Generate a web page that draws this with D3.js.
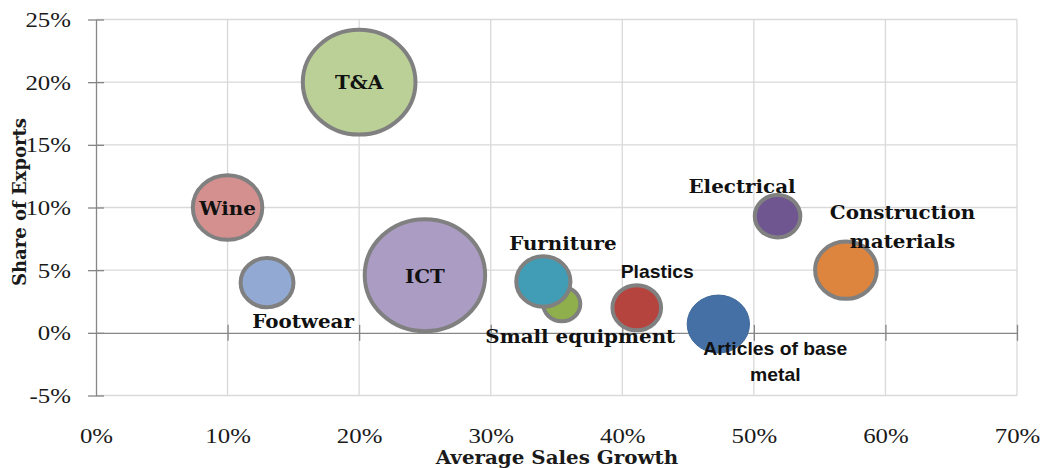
<!DOCTYPE html>
<html>
<head>
<meta charset="utf-8">
<script src="https://cdn.jsdelivr.net/npm/d3@7"></script>
<style>
  html, body { margin: 0; padding: 0; background: #ffffff; }
  svg { display: block; }
</style>
</head>
<body>
<svg id="chart" width="1043" height="468"></svg>
<script>
// ---------------- data ----------------
const categories = ["T&A", "Wine", "Footwear", "ICT", "Small equipment", "Furniture",
                    "Plastics", "Articles of base metal", "Electrical", "Construction materials"];
const salesGrowth = [20, 10, 13, 25, 35.4, 34, 41.1, 47.3, 51.8, 57.0];   // % (x)
const exportShare = [20, 10, 4.0, 4.6, 2.3, 4.1, 2.0, 0.7, 9.3, 5.0];     // % (y)
const bubbleSize  = [88, 35, 21, 100, 11, 22, 18, 25, 16, 28];            // relative size
const xTickValues = [0, 10, 20, 30, 40, 50, 60, 70];
const yTickValues = [-5, 0, 5, 10, 15, 20, 25];
const xTitle = "Average Sales Growth";
const yTitle = "Share of Exports";

// ---------------- styles / layout ----------------
const palette = ["#bad096", "#d4908f", "#92aad3", "#ab9cc4", "#8fae4c", "#409db5",
                 "#b5443f", "#4570a5", "#6f5690", "#dd853e"];
const labelLayout = {
  "T&A":                    { dx: 0,    dy: 7,    lines: ["T&A"], sans: false },
  "Wine":                   { dx: 0,    dy: 7,    lines: ["Wine"], sans: false },
  "Footwear":               { dx: 36,   dy: 45,   lines: ["Footwear"], sans: false },
  "ICT":                    { dx: 0,    dy: 8,    lines: ["ICT"], sans: false },
  "Small equipment":        { dx: 18.5, dy: 39,   lines: ["Small equipment"], sans: false },
  "Furniture":              { dx: 19.5, dy: -31,  lines: ["Furniture"], sans: false },
  "Plastics":               { dx: 20.5, dy: -29.5,lines: ["Plastics"], sans: true },
  "Articles of base metal": { dx: 57,   dy: 30.5, lines: ["Articles of base", "metal"], sans: true, lh: 26.5 },
  "Electrical":             { dx: -35.5,dy: -23,  lines: ["Electrical"], sans: false },
  "Construction materials": { dx: 56.5, dy: -51.5,lines: ["Construction", "materials"], sans: false, lh: 29 }
};
const stretch = 1.075;       // horizontal aspect of the original picture
const tickStretch = 1.13;
const gridColor = "#d9d9d9";
const axisColor = "#868686";
const serif = "'Liberation Serif', 'Times New Roman', serif";
const boldSerif = "'DejaVu Serif', serif";
const boldSans = "'Liberation Sans', Arial, sans-serif";

const data = categories.map((c, i) => ({
  name: c, x: salesGrowth[i], y: exportShare[i], s: bubbleSize[i], color: palette[i]
}));

// ---------------- scales ----------------
const svg = d3.select("#chart");
const x = d3.scaleLinear().domain([0, 70]).range([96, 1017]);
const y = d3.scaleLinear().domain([-5, 25]).range([395.5, 19.5]);
const r = d3.scaleSqrt().domain([0, 100]).range([0, 58]);

// ---------------- gridlines ----------------
const grid = svg.append("g");
grid.selectAll("line.h").data(yTickValues.filter(v => v !== 0)).join("line")
  .attr("x1", x(0)).attr("x2", x(70))
  .attr("y1", d => y(d)).attr("y2", d => y(d))
  .attr("stroke", gridColor).attr("stroke-width", 1.3);
grid.selectAll("line.v").data(xTickValues.filter(v => v !== 0)).join("line")
  .attr("x1", d => x(d)).attr("x2", d => x(d))
  .attr("y1", y(25)).attr("y2", y(-5))
  .attr("stroke", gridColor).attr("stroke-width", 1.3);

// ---------------- axes ----------------
const yAxis = svg.append("g").attr("transform", `translate(${x(0)},0)`)
  .call(d3.axisLeft(y).tickValues(yTickValues).tickSize(8).tickSizeOuter(0)
        .tickFormat(d => d + "%"));
yAxis.select(".domain").attr("stroke", axisColor).attr("stroke-width", 1.3);
yAxis.selectAll(".tick line").attr("x1", 8).attr("stroke", axisColor).attr("stroke-width", 1.3);
yAxis.selectAll(".tick text")
  .attr("x", 0)
  .attr("transform", `translate(-25,0) scale(${tickStretch},1)`)
  .attr("font-family", serif).attr("font-size", 22).attr("fill", "#1a1a1a");

const xAxisLine = svg.append("g").attr("transform", `translate(0,${y(0)})`)
  .call(d3.axisBottom(x).tickValues(xTickValues.filter(v => v !== 0)).tickSize(8)
        .tickSizeOuter(0).tickFormat(""));
xAxisLine.select(".domain").attr("stroke", axisColor).attr("stroke-width", 1.3);
xAxisLine.selectAll(".tick line").attr("y1", -8).attr("stroke", axisColor).attr("stroke-width", 1.3);

const xAxisLabels = svg.append("g").attr("transform", `translate(0,${y(-5)})`)
  .call(d3.axisBottom(x).tickValues(xTickValues).tickSize(0).tickPadding(32)
        .tickFormat(d => d + "%"));
xAxisLabels.select(".domain").remove();
xAxisLabels.selectAll(".tick text")
  .each(function () {
    const t = d3.select(this);
    const yy = +t.attr("y");
    t.attr("y", 0).attr("transform", `translate(0,${yy}) scale(${tickStretch},1)`);
  })
  .attr("font-family", serif).attr("font-size", 22).attr("fill", "#1a1a1a");

// axis titles
svg.append("text")
  .attr("transform", `translate(557,464) scale(${stretch},1)`)
  .attr("text-anchor", "middle")
  .attr("font-family", boldSerif).attr("font-weight", "bold").attr("font-size", 18.5)
  .attr("fill", "#1a1a1a")
  .text(xTitle);
svg.append("text")
  .attr("transform", `translate(26,202) rotate(-90)`)
  .attr("text-anchor", "middle")
  .attr("font-family", boldSerif).attr("font-weight", "bold").attr("font-size", 18)
  .attr("fill", "#1a1a1a")
  .text(yTitle);

// ---------------- bubbles ----------------
const bubbles = svg.append("g");
bubbles.selectAll("ellipse").data(data).join("ellipse")
  .attr("cx", d => x(d.x))
  .attr("cy", d => y(d.y))
  .attr("rx", d => (d.name === "Articles of base metal" ? r(d.s) : r(d.s) - 2) * stretch)
  .attr("ry", d => (d.name === "Articles of base metal" ? r(d.s) : r(d.s) - 2))
  .attr("fill", d => d.color)
  .attr("stroke", d => d.name === "Articles of base metal" ? "#3f6898" : "#808080")
  .attr("stroke-width", d => d.name === "Articles of base metal" ? 1 : 4);

// ---------------- labels ----------------
const labels = svg.append("g");
data.forEach(d => {
  const L = labelLayout[d.name];
  L.lines.forEach((line, k) => {
    labels.append("text")
      .attr("transform", `translate(${x(d.x) + L.dx},${y(d.y) + L.dy + k * (L.lh || 0)}) scale(${stretch},1)`)
      .attr("text-anchor", "middle")
      .attr("font-family", L.sans ? boldSans : boldSerif)
      .attr("font-weight", "bold")
      .attr("font-size", L.sans ? 18 : 18.5)
      .attr("fill", "#111111")
      .text(line);
  });
});
</script>
</body>
</html>
